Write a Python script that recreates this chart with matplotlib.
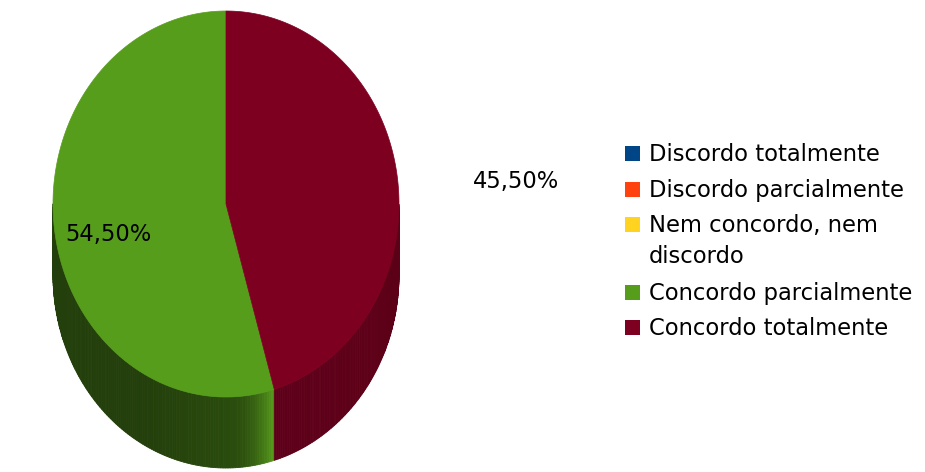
import numpy as np
import matplotlib.pyplot as plt
from matplotlib.patches import Polygon, Rectangle
from matplotlib.colors import to_rgb

# Survey answers and their shares (%)
categories = ["Discordo totalmente", "Discordo parcialmente",
              "Nem concordo, nem\ndiscordo", "Concordo parcialmente",
              "Concordo totalmente"]
values = [0.0, 0.0, 0.0, 54.5, 45.5]
value_labels = ["", "", "", "54,50%", "45,50%"]
colors = ["#004586", "#ff420e", "#ffd320", "#579d1c", "#7e0021"]

plt.rcParams['font.family'] = ['DejaVu Sans']

fig = plt.figure(figsize=(9.25, 4.72), dpi=100)
ax = fig.add_axes([0, 0, 1, 1])
ax.set_xlim(0, 925)
ax.set_ylim(472, 0)
ax.axis('off')

# Geometry of the tilted pie (pixel units)
cx, cy, ra, rb, depth = 226, 204, 173, 193, 71


def rim(theta):
    return cx + ra * np.cos(theta), cy - rb * np.sin(theta)


def shade(col, f):
    r, g, b = to_rgb(col)
    return (r * f, g * f, b * f)


total = sum(values)
start = np.pi / 2  # slices run counter-clockwise from 12 o'clock
spans = []
for v in values:
    ext = 2 * np.pi * v / total
    spans.append((start, start + ext))
    start += ext

# Side walls: only the front half of the rim is visible
for (t0, t1), col, v in zip(spans, colors, values):
    if v <= 0:
        continue
    n = 240
    ts = np.linspace(t0, t1, n + 1)
    for i in range(n):
        a0, a1 = ts[i], ts[i + 1]
        if np.sin((a0 + a1) / 2) >= 0:
            continue
        x0, y0 = rim(a0)
        x1, y1 = rim(a1)
        # lighting: left front in shadow, brighter toward the slice boundary
        frac = (a1 - t0) / (t1 - t0)
        if col == "#579d1c":
            f = 0.40 + 0.12 * max(0.0, (frac - 0.78) / 0.22) + \
                0.45 * max(0.0, (frac - 0.93) / 0.07) ** 2
        else:
            f = 0.75 - 0.05 * frac
        poly = Polygon([(x0, y0), (x1, y1), (x1, y1 + depth), (x0, y0 + depth)],
                       closed=True, facecolor=shade(col, f),
                       edgecolor=shade(col, f), linewidth=0.6)
        ax.add_patch(poly)

# Top faces
for (t0, t1), col, v in zip(spans, colors, values):
    if v <= 0:
        continue
    ts = np.linspace(t0, t1, 300)
    xs, ys = rim(ts)
    pts = [(cx, cy)] + list(zip(xs, ys))
    ax.add_patch(Polygon(pts, closed=True, facecolor=col, edgecolor=col,
                         linewidth=0.5))

# Value labels
fs = 16.3
ax.text(65, 240.7, value_labels[3], fontsize=fs, color="black",
        ha="left", va="baseline")
ax.text(473, 188.3, value_labels[4], fontsize=fs, color="black",
        ha="left", va="baseline")

# Legend
baselines = [161, 196.7, 231.7, 300, 335]
for cat, col, base in zip(categories, colors, baselines):
    ax.add_patch(Rectangle((625, base - 15), 15, 15, facecolor=col,
                           edgecolor="none"))
    for k, line in enumerate(cat.split("\n")):
        ax.text(649, base + k * 31.3, line, fontsize=fs, color="black",
                ha="left", va="baseline")

fig.savefig("out.png", dpi=100)
